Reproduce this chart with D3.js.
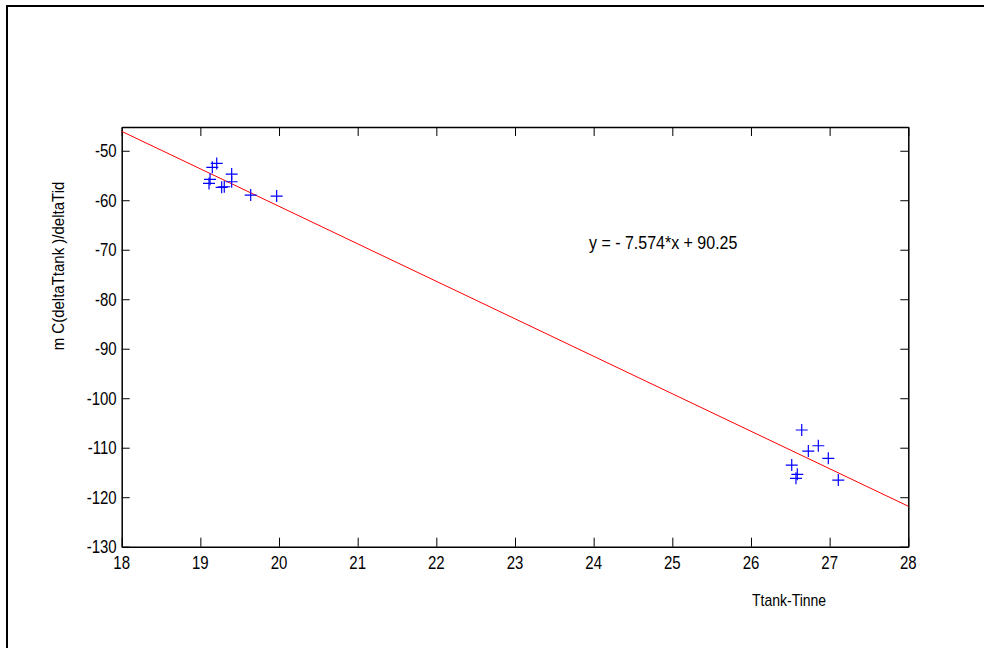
<!DOCTYPE html>
<html>
<head>
<meta charset="utf-8">
<script src="https://cdn.jsdelivr.net/npm/d3@7"></script>
<style>
  html, body { margin: 0; padding: 0; background: #fff; }
  svg { display: block; }
  text { font-family: "Liberation Sans", Arial, Helvetica, sans-serif; fill: #000; }
</style>
</head>
<body>
<svg id="chart" width="984" height="648"></svg>
<script>
// Measured samples: temperature difference vs. heat flow term
const xValues = [19.208, 19.152, 19.110, 19.123, 19.271, 19.304, 19.398, 19.398, 19.64, 19.97,
                 26.645, 26.729, 26.856, 26.983, 26.518, 26.589, 26.572, 27.11];
const yValues = [-52.55, -53.35, -56.6, -55.78, -57.39, -57.27, -54.71, -56.26, -58.95, -59.15,
                 -106.42, -110.67, -109.6, -112.14, -113.5, -115.37, -116.18, -116.53];

// Least-squares fit coefficients
const fitSlope = [-7.574];
const fitIntercept = [90.25];

const xTicks = [18, 19, 20, 21, 22, 23, 24, 25, 26, 27, 28];
const yTicks = [-130, -120, -110, -100, -90, -80, -70, -60, -50];
const xDomain = [18, 28];
const yDomain = [-130, -45.2];

const xLabel = "Ttank-Tinne";
const yLabel = "m C(deltaTtank )/deltaTid";
const eqLabel = "y = - 7.574*x + 90.25";

const svg = d3.select("#chart");
const L = 121.7, R = 908.3, T = 127, B = 546.7;

const x = d3.scaleLinear().domain(xDomain).range([L, R]);
const y = d3.scaleLinear().domain(yDomain).range([B, T]);

// plain hyphen-minus for negative numbers
const fmt = v => String(v);

// figure frame
svg.append("path")
  .attr("d", `M7,648 L7,6 L990,6`)
  .attr("fill", "none").attr("stroke", "#000").attr("stroke-width", 2);

// axes with inward ticks on all four sides
const tickLen = 9;
const axBottom = svg.append("g").attr("transform", `translate(0,${B})`)
  .call(d3.axisBottom(x).tickValues(xTicks).tickSizeInner(-tickLen).tickSizeOuter(0).tickFormat(""));
const axTop = svg.append("g").attr("transform", `translate(0,${T})`)
  .call(d3.axisTop(x).tickValues(xTicks).tickSizeInner(-tickLen).tickSizeOuter(0).tickFormat(""));
const axLeft = svg.append("g").attr("transform", `translate(${L},0)`)
  .call(d3.axisLeft(y).tickValues(yTicks).tickSizeInner(-8).tickSizeOuter(0).tickFormat(""));
const axRight = svg.append("g").attr("transform", `translate(${R},0)`)
  .call(d3.axisRight(y).tickValues(yTicks).tickSizeInner(-8).tickSizeOuter(0).tickFormat(""));

[axBottom, axTop, axLeft, axRight].forEach(g => {
  g.select(".domain").attr("stroke", "#000").attr("stroke-width", 1.5);
  g.selectAll(".tick line").attr("stroke", "#000").attr("stroke-width", 1);
});

// tick labels (slightly tall glyphs)
const stretch = 1.2;
svg.append("g").selectAll("text").data(xTicks).join("text")
  .attr("transform", d => `translate(${x(d)},${B + 22}) scale(1,${stretch})`)
  .attr("text-anchor", "middle")
  .attr("font-size", 15)
  .text(fmt);
svg.append("g").selectAll("text").data(yTicks).join("text")
  .attr("transform", d => `translate(${L - 5},${y(d) + 6.5}) scale(1,${stretch})`)
  .attr("text-anchor", "end")
  .attr("font-size", 15)
  .text(fmt);

// fitted line
const fitLine = d3.line().x(d => x(d)).y(d => y(fitSlope[0] * d + fitIntercept[0]));
svg.append("path")
  .datum(xDomain)
  .attr("d", fitLine)
  .attr("fill", "none").attr("stroke", "#ff0000").attr("stroke-width", 1);

// data markers (plus signs)
const pts = xValues.map((v, i) => [v, yValues[i]]);
const s = 6;
svg.append("g").selectAll("path").data(pts).join("path")
  .attr("d", d => {
    const px = x(d[0]), py = y(d[1]);
    return `M${px - s},${py} L${px + s},${py} M${px},${py - s} L${px},${py + s}`;
  })
  .attr("stroke", "#0000ff").attr("stroke-width", 1.2).attr("fill", "none");

// fit equation
svg.append("text")
  .attr("transform", `translate(589,249) scale(1,1.1)`)
  .attr("font-size", 16)
  .text(eqLabel);

// axis labels
svg.append("text")
  .attr("transform", `translate(752,606) scale(1,1.15)`)
  .attr("font-size", 14)
  .text(xLabel);

svg.append("text")
  .attr("transform", `translate(64,266) rotate(-90) scale(1,1.15)`)
  .attr("text-anchor", "middle")
  .attr("font-size", 15)
  .text(yLabel);
</script>
</body>
</html>
